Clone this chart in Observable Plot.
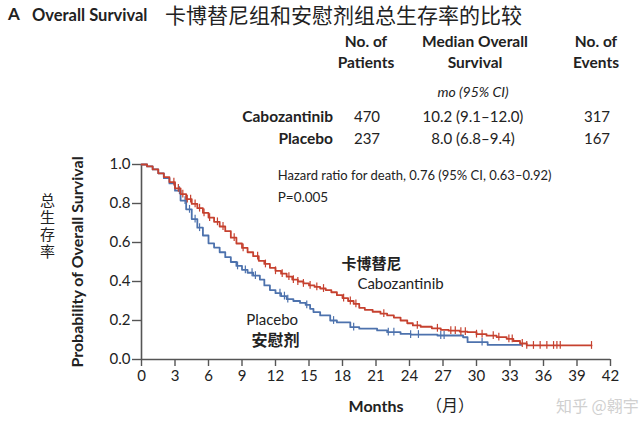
<!DOCTYPE html>
<html><head><meta charset="utf-8">
<script src="https://cdn.jsdelivr.net/npm/d3@7"></script>
<script src="https://cdn.jsdelivr.net/npm/@observablehq/plot@0.6"></script>
<style>
body{margin:0;background:#fff;}
#wrap{position:relative;width:640px;height:432px;font-family:Lato,"Noto Sans",sans-serif;color:#222;}
.t{position:absolute;white-space:nowrap;line-height:1.1;}
.cjk{font-family:"Noto Sans CJK SC",sans-serif;}
.c{transform:translateX(-50%);text-align:center;}
.r{transform:translateX(-100%);text-align:right;}
.v{writing-mode:vertical-rl;letter-spacing:2px;line-height:1;}
</style></head>
<body><div id="wrap"></div>
<script>
// Kaplan–Meier estimates (months, survival probability)
const caboT = [0,0.5,1,1.5,2,2.5,3,3.5,4,4.5,5,5.5,6,6.5,7,7.5,8,8.5,9,9.5,10,10.5,11,11.5,12,12.5,13,13.5,14,14.5,15,15.5,16,16.5,17,17.5,18,18.5,19,19.5,20,20.7,21.4,22,22.6,23.2,23.8,24.3,25,26,26.8,27.5,28.5,29.2,30,30.9,31.8,32.7,33.3,33.9,34.5,40.3];
const caboS = [1,0.99,0.975,0.955,0.935,0.91,0.878,0.848,0.822,0.798,0.776,0.752,0.728,0.706,0.682,0.658,0.625,0.595,0.572,0.55,0.53,0.506,0.49,0.47,0.455,0.44,0.425,0.41,0.4,0.39,0.38,0.372,0.364,0.356,0.345,0.33,0.315,0.3,0.285,0.265,0.255,0.245,0.235,0.226,0.215,0.2,0.186,0.175,0.168,0.16,0.152,0.148,0.143,0.14,0.13,0.122,0.115,0.106,0.095,0.082,0.072,0.072];
const placT = [0,0.5,1,1.5,2,2.5,3,3.5,4,4.5,5,5.5,6,6.5,7,7.5,8,8.5,9,9.5,10,10.6,11,11.5,12,12.5,13,13.6,14.2,14.7,15.1,15.4,16,16.9,17.5,18.7,19.5,21.1,22,23.2,24.1,26.5,28.8,29.2,31,34];
const placS = [1,0.99,0.975,0.955,0.93,0.903,0.866,0.815,0.77,0.72,0.676,0.636,0.596,0.574,0.55,0.525,0.5,0.48,0.46,0.445,0.43,0.41,0.38,0.356,0.34,0.325,0.31,0.3,0.29,0.28,0.26,0.243,0.226,0.2,0.19,0.166,0.158,0.149,0.14,0.131,0.128,0.123,0.114,0.089,0.075,0.075];
const caboCens = [2.9,3.3,3.7,4.1,4.4,4.8,5.2,5.6,6.1,6.8,7.3,8.3,9.1,10.4,11.1,12.0,12.6,13.2,13.6,14.0,14.5,15.1,15.7,16.3,18.1,18.7,19.2,21.7,24.7,26.5,27.7,28.1,28.6,29.0,30.0,30.5,31.5,32.0,32.9,33.2,34.1,34.5,35.1,35.7,36.3,36.9,37.2,37.5,40.3];
const placCens = [3.4,3.9,4.3,4.8,5.2,8.6,9.3,9.9,10.2,12.4,12.8,13.1,14.8,17.2,19.0,22.1,22.6,24.1,24.8,26.8,27.1,30.5];
const xTicks = d3.range(0,43,3);
const yTicks = [0,0.2,0.4,0.6,0.8,1.0];
const red = "#c6412f", blue = "#4d72ad";

const cabo = caboT.map((t,i)=>({t, s:caboS[i]}));
const plac = placT.map((t,i)=>({t, s:placS[i]}));
const at = (arr,t)=>{let s=arr[0].s; for(const d of arr){ if(d.t<=t) s=d.s; } return s;};
const cC = caboCens.map(t=>({t, s:at(cabo,t)}));
const pC = placCens.map(t=>({t, s:at(plac,t)}));

const chart = Plot.plot({
  width:640, height:432,
  marginLeft:141, marginRight:30, marginTop:164, marginBottom:73,
  style:{fontFamily:"Lato, sans-serif", fontSize:"15px", color:"#222", background:"transparent"},
  x:{domain:[0,42]},
  y:{domain:[0,1]},
  marks:[
    Plot.axisX({ticks:xTicks, tickSize:7, tickPadding:4, fontSize:15, label:null, stroke:"#555", strokeWidth:1.4}),
    Plot.axisY({ticks:yTicks, tickSize:9, tickPadding:2, fontSize:15, tickFormat:d3.format(".1f"), label:null, stroke:"#555", strokeWidth:1.4}),
    Plot.ruleY([0], {stroke:"#555", strokeWidth:1.6}),
    Plot.ruleX([0], {stroke:"#555", strokeWidth:1.6}),
    Plot.line(plac, {x:"t", y:"s", curve:"step-after", stroke:blue, strokeWidth:1.8}),
    Plot.ruleX(pC, {x:"t", y1:d=>d.s-0.02, y2:d=>d.s+0.02, stroke:blue, strokeWidth:1.2}),
    Plot.line(cabo, {x:"t", y:"s", curve:"step-after", stroke:red, strokeWidth:1.8}),
    Plot.ruleX(cC, {x:"t", y1:d=>d.s-0.02, y2:d=>d.s+0.02, stroke:red, strokeWidth:1.2}),
    Plot.text(["Hazard ratio for death, 0.76 (95% CI, 0.63–0.92)"], {x:12.2, y:0.94, text:d=>d, textAnchor:"start", fontSize:13, fill:"#222"}),
    Plot.text(["P=0.005"], {x:12.2, y:0.83, text:d=>d, textAnchor:"start", fontSize:13.5, fill:"#222"}),
    Plot.text(["卡博替尼"], {x:20.6, y:0.49, text:d=>d, fontSize:15, fontWeight:"bold", fontFamily:"Noto Sans CJK SC", fill:"#222"}),
    Plot.text(["Cabozantinib"], {x:23.2, y:0.385, text:d=>d, fontSize:15, fill:"#222"}),
    Plot.text(["Placebo"], {x:11.7, y:0.2, text:d=>d, fontSize:15, fill:"#222"}),
    Plot.text(["安慰剂"], {x:12.0, y:0.097, text:d=>d, fontSize:16, fontWeight:"bold", fontFamily:"Noto Sans CJK SC", fill:"#222"}),
    Plot.text(["Probability of Overall Survival"], {frameAnchor:"left", dx:-64, rotate:-90, textAnchor:"middle", text:d=>d, fontSize:16, fontWeight:"bold", fill:"#222"}),
    Plot.text(["Months"], {frameAnchor:"bottom", dy:52, text:d=>d, fontSize:16, fontWeight:"bold", fill:"#222"}),
    Plot.text(["（月）"], {frameAnchor:"bottom", dy:51, dx:74, text:d=>d, fontSize:16, fontFamily:"Noto Sans CJK SC", fill:"#222"})
  ]
});
chart.style.position="absolute"; chart.style.left="0"; chart.style.top="0";
const wrap = document.getElementById("wrap");
wrap.appendChild(chart);

const items = [
  ["A", 8, 5, "font-size:17px;font-weight:bold;"],
  ["Overall Survival", 32, 6, "font-size:16.5px;font-weight:bold;"],
  ["卡博替尼组和安慰剂组总生存率的比较", 165, 3, "font-size:21px;", "cjk"],
  ["No. of", 366, 33, "font-size:15.5px;font-weight:bold;", "c"],
  ["Patients", 366, 54, "font-size:15.5px;font-weight:bold;", "c"],
  ["Median Overall", 475, 33, "font-size:15.5px;font-weight:bold;", "c"],
  ["Survival", 475, 54, "font-size:15.5px;font-weight:bold;", "c"],
  ["No. of", 596, 33, "font-size:15.5px;font-weight:bold;", "c"],
  ["Events", 596, 54, "font-size:15.5px;font-weight:bold;", "c"],
  ["mo (95% CI)", 473, 84, "font-size:14px;font-style:italic;", "c"],
  ["Cabozantinib", 333, 108, "font-size:15.5px;font-weight:bold;", "r"],
  ["Placebo", 333, 130, "font-size:15.5px;font-weight:bold;", "r"],
  ["470", 367, 108, "font-size:15px;", "c"],
  ["237", 367, 130, "font-size:15px;", "c"],
  ["10.2 (9.1–12.0)", 473, 108, "font-size:15px;", "c"],
  ["8.0 (6.8–9.4)", 473, 130, "font-size:15px;", "c"],
  ["317", 597, 108, "font-size:15px;", "c"],
  ["167", 597, 130, "font-size:15px;", "c"],
  ["总生存率", 40, 193, "font-size:15px;", "cjk v"],
  ["知乎 @翱宇", 556, 397, "font-size:16px;color:#d0d0d0;", "cjk"]
];
for (const [txt,x,y,st,cls] of items){
  const d=document.createElement("div");
  d.className="t "+(cls||""); d.innerHTML=txt;
  d.style.cssText += `left:${x}px;top:${y}px;${st}`;
  wrap.appendChild(d);
}
</script></body></html>
